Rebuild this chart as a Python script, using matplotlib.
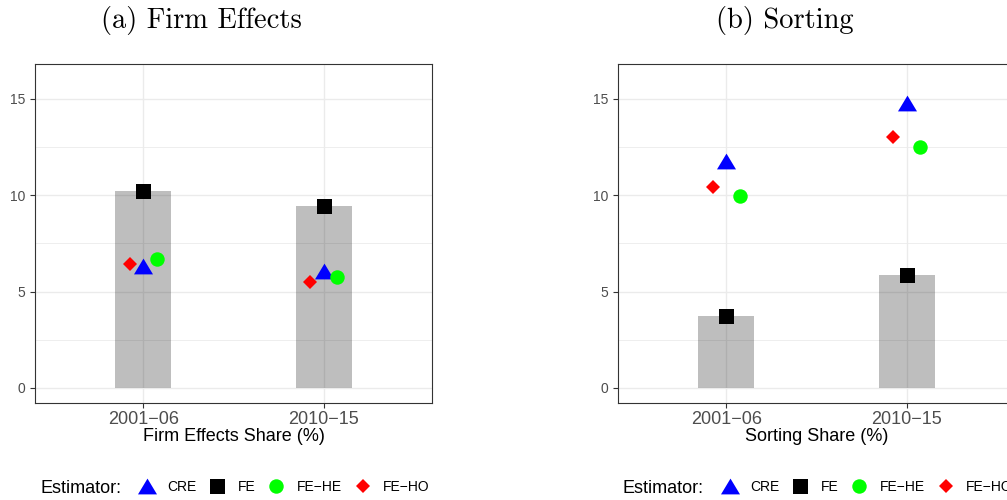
import matplotlib
matplotlib.use("Agg")
import matplotlib.pyplot as plt
from matplotlib.lines import Line2D
import numpy as np

plt.rcParams.update({
    'font.family': 'Liberation Sans',
    'axes.linewidth': 0.8,
    'axes.edgecolor': '#333333',
    'xtick.color': '#333333',
    'ytick.color': '#333333',
    'xtick.labelcolor': '#4D4D4D',
    'ytick.labelcolor': '#4D4D4D',
})

# data
periods = ["2001\u221206", "2010\u221215"]
estimators = ["CRE", "FE", "FE\u2212HE", "FE\u2212HO"]

firm_cre = [6.33, 6.08]
firm_fe = [10.2, 9.46]
firm_fe_he = [6.68, 5.78]
firm_fe_ho = [6.42, 5.50]

sort_cre = [11.80, 14.77]
sort_fe = [3.74, 5.88]
sort_fe_he = [9.96, 12.50]
sort_fe_ho = [10.42, 13.04]

# styles
tri = [(-1, -0.83), (1, -0.83), (0, 0.83)]
styles = {
    "CRE": dict(marker=tri, color="#0000FF", ms=13.7, dx=0.0),
    "FE": dict(marker="s", color="#000000", ms=10.8, dx=0.0),
    "FE\u2212HE": dict(marker="o", color="#00FF00", ms=10.4, dx=0.075),
    "FE\u2212HO": dict(marker="D", color="#FF0000", ms=7.1, dx=-0.075),
}

W, H = 1007, 500
fig = plt.figure(figsize=(W / 100, H / 100), dpi=100)


def px(x, y):
    return x / W, 1 - y / H


def panel(left_px, title, xlabel, vals, bar_vals):
    ax = fig.add_axes([left_px / W, 1 - 403.3 / H, 397.6 / W, 339 / H])
    x = np.arange(1, len(periods) + 1)
    ax.bar(x, bar_vals, width=0.31, color="black", alpha=0.255, linewidth=0, zorder=2)
    for name, v in zip(estimators, vals):
        st = styles[name]
        ax.plot(x + st["dx"], v, linestyle="none", marker=st["marker"],
                color=st["color"], markersize=st["ms"], markeredgewidth=0, zorder=3)
    ax.set_xlim(0.4, 2.6)
    ax.set_ylim(-0.8, 16.8)
    ax.set_xticks(x)
    ax.set_xticklabels(periods, fontsize=13)
    ax.set_yticks([0, 5, 10, 15])
    ax.set_yticks([2.5, 7.5, 12.5], minor=True)
    ax.tick_params(axis="y", which="minor", length=0)
    ax.tick_params(axis="both", which="major", length=3.8, width=0.8)
    ax.tick_params(axis="x", pad=1.5)
    ax.tick_params(axis="y", labelsize=10, pad=3)
    ax.grid(True, which="major", color="#EBEBEB", linewidth=1.0, zorder=0)
    ax.grid(True, which="minor", axis="y", color="#EBEBEB", linewidth=0.6, zorder=0)
    ax.set_axisbelow(True)
    ax.set_xlabel(xlabel, fontsize=13, labelpad=0, color="black")

    # panel title in computer modern
    tx, ty = px(left_px + 166.8, 28.3)
    fig.text(tx, ty, title, family="cmr10", fontsize=20.5, ha="center", va="baseline")

    # legend row
    ex, ey = px(left_px + 5.3, 492.7)
    fig.text(ex, ey, "Estimator:", fontsize=13, ha="left", va="baseline")
    handles = [Line2D([], [], linestyle="none", marker=styles[n]["marker"],
                      color=styles[n]["color"], markersize=styles[n]["ms"],
                      markeredgewidth=0) for n in estimators]
    lx, ly = px(left_px + 102.1, 486.7)
    fig.legend(handles, estimators, loc="center left", bbox_to_anchor=(lx, ly),
               ncol=4, frameon=False, fontsize=10, handlelength=1.4,
               handletextpad=0.78, columnspacing=0.8, borderpad=0,
               borderaxespad=0)
    return ax


panel(34.7, "(a) Firm Effects", "Firm Effects Share (%)",
      [firm_cre, firm_fe, firm_fe_he, firm_fe_ho], firm_fe)
panel(617.7, "(b) Sorting", "Sorting Share (%)",
      [sort_cre, sort_fe, sort_fe_he, sort_fe_ho], sort_fe)

fig.savefig("out.png", dpi=100)
